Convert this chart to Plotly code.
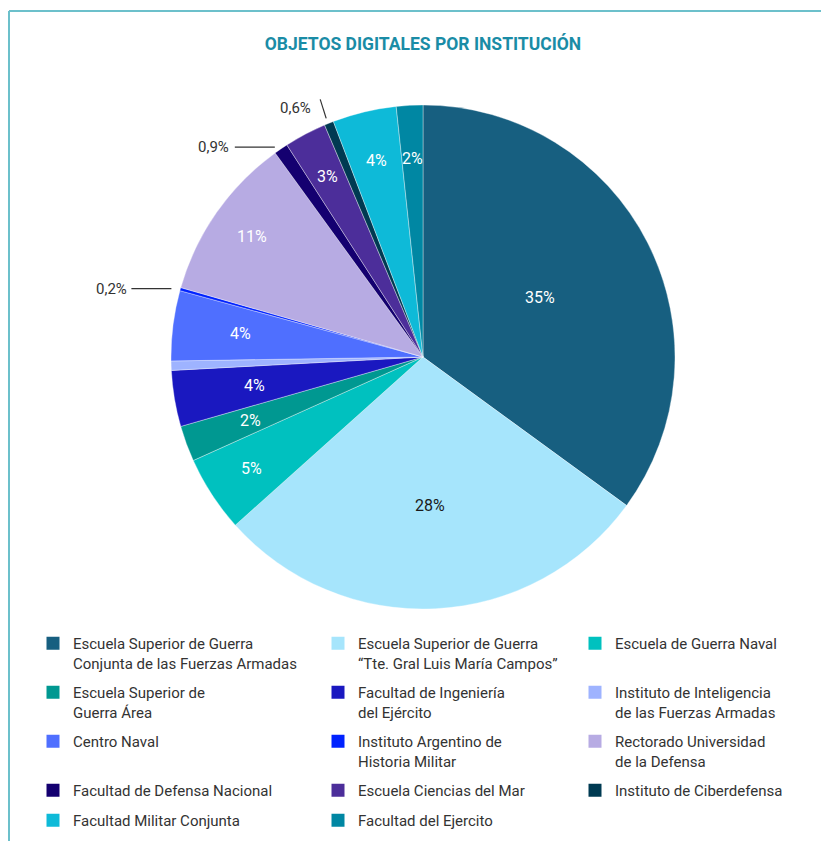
import math
import plotly.graph_objects as go

# ---------------- data ----------------
institutions = [
    "Escuela Superior de Guerra<br>Conjunta de las Fuerzas Armadas",
    "Escuela Superior de Guerra<br>“Tte. Gral Luis María Campos”",
    "Escuela de Guerra Naval",
    "Escuela Superior de<br>Guerra Área",
    "Facultad de Ingeniería<br>del Ejército",
    "Instituto de Inteligencia<br>de las Fuerzas Armadas",
    "Centro Naval",
    "Instituto Argentino de<br>Historia Militar",
    "Rectorado Universidad<br>de la Defensa",
    "Facultad de Defensa Nacional",
    "Escuela Ciencias del Mar",
    "Instituto de Ciberdefensa",
    "Facultad Militar Conjunta",
    "Facultad del Ejercito",
]
shares = [35.1, 28.4, 4.9, 2.3, 3.6, 0.6, 4.5, 0.2, 10.6, 0.9, 2.7, 0.6, 4.1, 1.7]
inside_text = ["35%", "28%", "5%", "2%", "4%", "", "4%", "", "11%", "", "3%", "", "4%", "2%"]
outside_text = ["", "", "", "", "", "", "", "0,2%", "", "0,9%", "", "0,6%", "", ""]
colors = ["#175f80", "#a6e5fc", "#00c1bf", "#009891", "#1a18c0", "#9eb3ff", "#4f6fff",
          "#0022ff", "#b7abe3", "#140070", "#4c2e9a", "#003a52", "#0ebad8", "#0087a3"]
text_colors = ["white", "#1a1a1a", "white", "white", "white", "white", "white",
               "white", "white", "white", "white", "white", "white", "white"]
title_text = "OBJETOS DIGITALES POR INSTITUCIÓN"

# ---------------- styling / geometry (figure pixels) ----------------
W, H = 829, 841
cx_px, cy_px, r_px = 415, 349, 252
label_radius = [0.52, 0.59, 0.81, 0.73, 0.68, 0.7, 0.73, 0.7, 0.83, 0.8, 0.81, 0.8, 0.80, 0.79]
dom_x = [(cx_px - r_px) / W, (cx_px + r_px) / W]
dom_y = [1 - (cy_px + r_px) / H, 1 - (cy_px - r_px) / H]

legend_cols_px = [25, 310, 567]
legend_rows_px = [619, 668, 717, 766, 796]


def to_paper(px, py):
    return px / W, 1 - py / H


fig = go.Figure(go.Pie(
    labels=[s.replace("<br>", " ") for s in institutions],
    values=shares,
    textinfo="none",
    sort=False,
    direction="clockwise",
    rotation=0,
    marker=dict(colors=colors, line=dict(color="rgba(255,255,255,0.6)", width=0.6)),
    domain=dict(x=dom_x, y=dom_y),
    hoverinfo="label+percent",
    showlegend=False,
))

# legend: one entry per institution, laid out in a 3-column grid
legend_layouts = {}
for i, (name, col) in enumerate(zip(institutions, colors)):
    key = "legend" if i == 0 else f"legend{i + 1}"
    fig.add_trace(go.Scatter(
        x=[None], y=[None], mode="markers", name=name,
        marker=dict(symbol="square", size=13, color=col),
        legend=key, showlegend=True, hoverinfo="skip",
    ))
    r, c = divmod(i, 3)
    lx, ly = to_paper(legend_cols_px[c], legend_rows_px[r])
    legend_layouts[key] = dict(
        x=lx, y=ly, xanchor="left", yanchor="top", valign="top",
        bgcolor="rgba(0,0,0,0)", borderwidth=0,
        font=dict(family="Roboto", size=15, color="#333333"),
        itemclick=False, itemdoubleclick=False,
    )

# slice labels, placed at the mid-angle of each slice (computed from the data)
total = sum(shares)
leader = {  # (line start dx,dy ; line end dx,dy ; text right-edge dx,dy), px relative to edge point
    "0,2%": ((-7, 0), (-47, 0), (-49, 0)),
    "0,9%": ((-5, 0), (-45, 0), (-49, 0)),
    "0,6%": ((-2, -3), (-8, -22), (-15, -13)),
}
cum = 0.0
for v, lab_in, lab_out, tcol, rf in zip(shares, inside_text, outside_text, text_colors, label_radius):
    th = 2 * math.pi * (cum + v / 2) / total
    cum += v
    if lab_in:
        x, y = to_paper(cx_px + rf * r_px * math.sin(th), cy_px - rf * r_px * math.cos(th))
        fig.add_annotation(x=x, y=y, xref="paper", yref="paper", text=lab_in, showarrow=False,
                           xanchor="center", yanchor="middle",
                           font=dict(family="Roboto", size=16, color=tcol))
    if lab_out:
        px = cx_px + (r_px + 2) * math.sin(th)
        py = cy_px - (r_px + 2) * math.cos(th)
        (hx, hy), (tx, ty), (lx, ly) = leader[lab_out]
        ax_, ay_ = to_paper(px, py)
        fig.add_shape(
            type="line", xref="paper", yref="paper",
            xsizemode="pixel", ysizemode="pixel",
            xanchor=ax_, yanchor=ay_,
            x0=hx, y0=-hy, x1=tx, y1=-ty,
            line=dict(color="#333333", width=1.2),
        )
        fig.add_annotation(
            x=ax_, y=ay_, xref="paper", yref="paper",
            xanchor="right", yanchor="middle", xshift=lx, yshift=-ly,
            text=lab_out, showarrow=False,
            font=dict(family="Roboto", size=15, color="#333333"),
        )

# frame lines (top and left)
fig.add_shape(type="line", xref="paper", yref="paper", x0=1 / W, x1=1, y0=1 - 3 / H, y1=1 - 3 / H,
              line=dict(color="#6cc0cb", width=2))
fig.add_shape(type="line", xref="paper", yref="paper", x0=1 / W, x1=1 / W, y0=0, y1=1 - 3 / H,
              line=dict(color="#6cc0cb", width=2))

tx_, ty_ = to_paper(415, 36)
fig.update_layout(
    width=W, height=H,
    margin=dict(l=0, r=0, t=0, b=0, autoexpand=False),
    paper_bgcolor="white",
    plot_bgcolor="rgba(0,0,0,0)",
    xaxis=dict(visible=False),
    yaxis=dict(visible=False),
    title=dict(text="<b>" + title_text + "</b>", x=tx_, xanchor="center", y=ty_, yanchor="middle",
               font=dict(family="Roboto", size=17.5, color="#1a8ca6")),
    font=dict(family="Roboto"),
    **legend_layouts,
)

fig.write_html("out.html")
